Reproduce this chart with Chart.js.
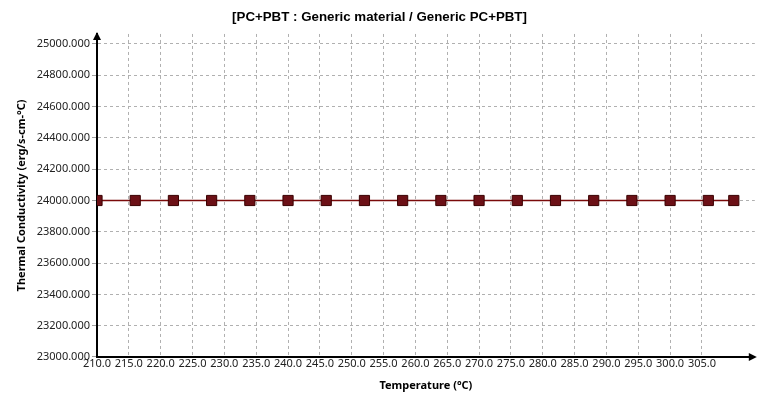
<!DOCTYPE html>
<html>
<head>
<meta charset="utf-8">
<script src="https://cdn.jsdelivr.net/npm/chart.js@4/dist/chart.umd.min.js"></script>
<style>
  html, body { margin: 0; padding: 0; background: #ffffff; }
  #wrap { width: 763px; height: 413px; }
</style>
</head>
<body>
<div id="wrap"><canvas id="graficoCondutividade" width="763" height="413"></canvas></div>
<script>
// dados
const temperaturas = [210, 216, 222, 228, 234, 240, 246, 252, 258, 264, 270, 276, 282, 288, 294, 300, 306, 310];
const condutividade = [24000, 24000, 24000, 24000, 24000, 24000, 24000, 24000, 24000, 24000, 24000, 24000, 24000, 24000, 24000, 24000, 24000, 24000];
const ticksX = [210, 215, 220, 225, 230, 235, 240, 245, 250, 255, 260, 265, 270, 275, 280, 285, 290, 295, 300, 305];
const ticksY = [23000, 23200, 23400, 23600, 23800, 24000, 24200, 24400, 24600, 24800, 25000];

const titulo = "[PC+PBT : Generic material / Generic PC+PBT]";
const tituloX = "Temperature (°C)";
const tituloY = "Thermal Conductivity (erg/s-cm-°C)";

// setas no fim dos eixos
const setasEixos = {
    id: "setasEixos",
    afterDraw(chart) {
        const ctx = chart.ctx;
        const a = chart.chartArea;
        ctx.save();
        ctx.fillStyle = "#000000";
        ctx.beginPath();
        ctx.moveTo(a.left, a.top - 2);
        ctx.lineTo(a.left - 4, a.top + 6);
        ctx.lineTo(a.left + 4, a.top + 6);
        ctx.closePath();
        ctx.fill();
        ctx.beginPath();
        ctx.moveTo(a.right + 2, a.bottom);
        ctx.lineTo(a.right - 6, a.bottom - 4);
        ctx.lineTo(a.right - 6, a.bottom + 4);
        ctx.closePath();
        ctx.fill();
        ctx.restore();
    }
};

const ctx = document.getElementById("graficoCondutividade").getContext("2d");

new Chart(ctx, {
    type: "line",
    data: {
        datasets: [{
            label: "Generic PC+PBT",
            data: temperaturas.map((t, i) => ({ x: t, y: condutividade[i] })),
            borderColor: "#7a0a0a",
            borderWidth: 1.5,
            backgroundColor: "#6c1016",
            pointStyle: "rect",
            pointRadius: 7.2,
            pointBorderColor: "#3a0000",
            pointBorderWidth: 1,
            tension: 0
        }]
    },
    options: {
        responsive: false,
        animation: false,
        layout: { padding: { top: 0, right: 4, bottom: 0, left: 0 } },
        plugins: {
            legend: { display: false },
            tooltip: { enabled: false },
            title: {
                display: true,
                text: titulo,
                color: "#000000",
                font: { family: "Liberation Sans, Arial", size: 13.3, weight: "bold" },
                padding: { top: 9, bottom: 9 }
            }
        },
        scales: {
            x: {
                type: "linear",
                min: 210,
                max: 313.3,
                afterBuildTicks(scale) {
                    scale.ticks = ticksX.map(v => ({ value: v }));
                },
                afterFit(scale) { scale.height = 56; },
                ticks: {
                    color: "#222222",
                    font: { family: "Noto Sans", size: 11 },
                    padding: 0,
                    maxRotation: 0,
                    autoSkip: false,
                    callback: v => v.toFixed(1)
                },
                grid: {
                    color: "#b0b0b0",
                    lineWidth: 1,
                    drawTicks: false
                },
                border: { display: true, color: "#000000", width: 2, dash: [3, 3] },
                title: {
                    display: true,
                    text: tituloX,
                    color: "#000000",
                    font: { family: "Noto Sans", size: 11, weight: "bold" },
                    padding: { top: 0, bottom: 21 }
                }
            },
            y: {
                min: 23000,
                max: 25064,
                afterBuildTicks(scale) {
                    scale.ticks = ticksY.map(v => ({ value: v }));
                },
                afterFit(scale) { scale.width = 97; },
                ticks: {
                    color: "#222222",
                    font: { family: "Noto Sans", size: 11 },
                    padding: 2,
                    callback: v => v.toFixed(3)
                },
                grid: {
                    color: "#b0b0b0",
                    lineWidth: 1,
                    tickLength: 5,
                    tickColor: "#a0a0a0",
                    tickBorderDash: []
                },
                border: { display: true, color: "#000000", width: 2, dash: [3, 3] },
                title: {
                    display: true,
                    text: tituloY,
                    color: "#000000",
                    font: { family: "Noto Sans", size: 11, weight: "bold" },
                    padding: { top: 15, bottom: 0 }
                }
            }
        }
    },
    plugins: [setasEixos]
});
</script>
</body>
</html>
